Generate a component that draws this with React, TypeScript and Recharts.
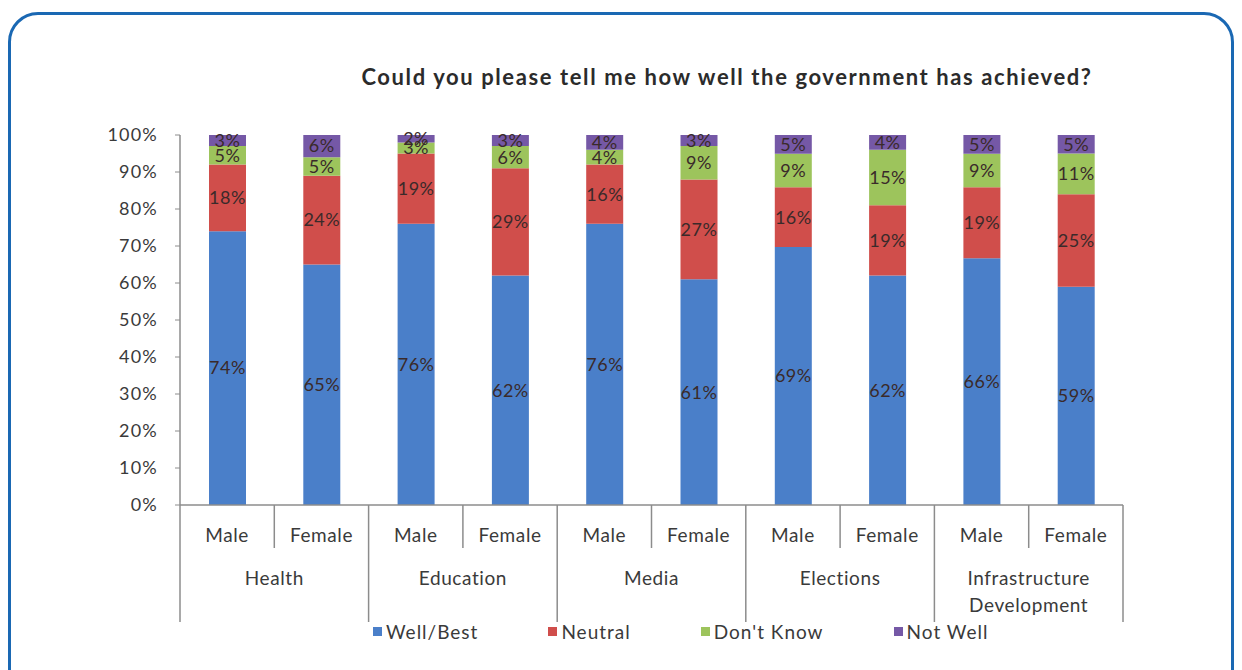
import React from 'react'
import { BarChart, Bar, XAxis, YAxis, LabelList } from 'recharts'

const groups = ['Health', 'Education', 'Media', 'Elections', 'Infrastructure Development']
const genders = ['Male', 'Female']
const wellBest = [74, 65, 76, 62, 76, 61, 69, 62, 66, 59]
const neutral = [18, 24, 19, 29, 16, 27, 16, 19, 19, 25]
const dontKnow = [5, 5, 3, 6, 4, 9, 9, 15, 9, 11]
const notWell = [3, 6, 2, 3, 4, 3, 5, 4, 5, 5]
const seriesNames = ['Well/Best', 'Neutral', "Don't Know", 'Not Well']
const yTicks = [0, 0.1, 0.2, 0.3, 0.4, 0.5, 0.6, 0.7, 0.8, 0.9, 1]

const data = wellBest.map((v, i) => ({
  gender: genders[i % 2],
  group: groups[Math.floor(i / 2)],
  well: v,
  neutral: neutral[i],
  dk: dontKnow[i],
  notWell: notWell[i],
}))

const C = { blue: '#4A7FC9', red: '#D04E4B', green: '#9DC45C', purple: '#7558A6', text: '#3a3a3a', axis: '#8c8c8c' }
const colors = [C.blue, C.red, C.green, C.purple]
const keys = ['well', 'neutral', 'dk', 'notWell']
const FONT = 'Lato, "Open Sans", sans-serif'

const W = 1226
const H = 662
const Y_W = 72
const M = { top: 127, right: 111, bottom: 5, left: 172 - Y_W }
const CAT_W = (W - 172 - M.right) / data.length
const catText = { fontSize: 19, letterSpacing: 0.6, fontFamily: FONT }

const AxisTick = ({ x, y, payload }: any) => {
  const i = payload.index
  const d = data[i]
  const female = i % 2 === 1
  const right = x + CAT_W / 2
  const words = d.group.split(' ')
  return (
    <g>
      <text x={x} y={y + 37} textAnchor="middle" fill={C.text} style={catText}>{d.gender}</text>
      {i === 0 && <line x1={x - CAT_W / 2} y1={y} x2={x - CAT_W / 2} y2={y + 117} stroke={C.axis} strokeWidth={1.5} />}
      <line x1={right} y1={y} x2={right} y2={y + (female ? 117 : 43)} stroke={C.axis} strokeWidth={1.5} />
      {female && (
        <text x={x - CAT_W / 2} y={y + 80} textAnchor="middle" fill={C.text} style={catText}>
          {words.length > 1
            ? words.map((w: string, k: number) => <tspan key={k} x={x - CAT_W / 2} dy={k === 0 ? 0 : 27}>{w}</tspan>)
            : d.group}
        </text>
      )}
    </g>
  )
}

export default function App() {
  return (
    <div style={{ position: 'relative', width: W, height: H, overflow: 'hidden', background: '#fff', fontFamily: FONT }}>
      <div style={{ position: 'absolute', left: 0, top: 4, width: W, height: 720, border: '3px solid #1a68b3', borderRadius: 30, boxSizing: 'border-box' }} />
      <div style={{ position: 'absolute', left: 0, right: 0, top: 55, textAlign: 'center', paddingLeft: 212, fontWeight: 700, fontSize: 22, letterSpacing: 1.6, color: '#2b2b2b' }}>
        Could you please tell me how well the government has achieved?
      </div>
      <BarChart width={W} height={H} data={data} margin={M} stackOffset="expand" barSize={37}>
        <XAxis dataKey="gender" tick={<AxisTick />} tickLine={false} tickSize={0} tickMargin={0} height={160}
          axisLine={{ stroke: C.axis, strokeWidth: 1.5 }} interval={0} />
        <YAxis width={Y_W} domain={[0, 1]} ticks={yTicks} tickFormatter={(v: number) => `${Math.round(v * 100)}%`}
          tick={{ fill: C.text, fontSize: 18, letterSpacing: 1.2, fontFamily: FONT }} tickSize={5} tickMargin={17}
          axisLine={{ stroke: C.axis, strokeWidth: 1.5 }} tickLine={{ stroke: C.axis }} />
        {keys.map((k, s) => (
          <Bar key={k} dataKey={k} stackId="a" fill={colors[s]} name={seriesNames[s]} isAnimationActive={false}>
            <LabelList dataKey={k} position="center" formatter={(v: any) => `${v}%`}
              style={{ fill: '#3a2a2a', fontSize: 18, letterSpacing: 0.5, fontFamily: FONT }} />
          </Bar>
        ))}
      </BarChart>
      <div style={{ position: 'absolute', left: 365, top: 612, display: 'flex', gap: 70, fontSize: 19, letterSpacing: 1, color: C.text }}>
        {seriesNames.map((n, s) => (
          <div key={n} style={{ display: 'flex', alignItems: 'center', gap: 4 }}>
            <span style={{ width: 9, height: 9, background: colors[s], display: 'inline-block' }} />
            <span>{n}</span>
          </div>
        ))}
      </div>
    </div>
  )
}
